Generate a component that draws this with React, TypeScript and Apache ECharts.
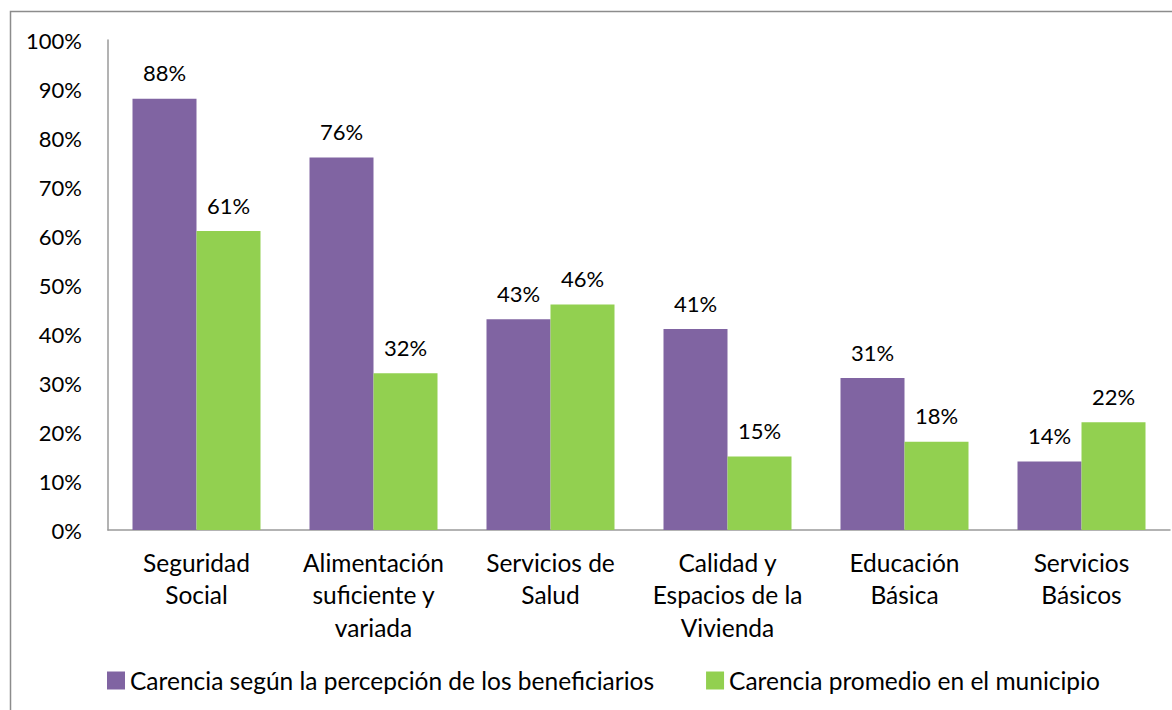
import React, { useEffect, useRef } from "react";
import * as echarts from "echarts";

const categories = [
  "Seguridad\nSocial",
  "Alimentación\nsuficiente y\nvariada",
  "Servicios de\nSalud",
  "Calidad y\nEspacios de la\nVivienda",
  "Educación\nBásica",
  "Servicios\nBásicos",
];
const beneficiarios = [88, 76, 43, 41, 31, 14];
const municipio = [61, 32, 46, 15, 18, 22];
const seriesNames = [
  "Carencia según la percepción de los beneficiarios",
  "Carencia promedio en el municipio",
];

const FONT = "Lato, sans-serif";
const FS_NUM = 22;
const FS_TXT = 24.5;

export default function App() {
  const ref = useRef<HTMLDivElement>(null);
  useEffect(() => {
    if (!ref.current) return;
    const chart = echarts.init(ref.current, null, { renderer: "svg" });
    const label = {
      show: true,
      position: "top",
      distance: 15,
      formatter: "{c}%",
      color: "#000",
      fontSize: FS_NUM,
      fontFamily: FONT,
    };
    chart.setOption({
      animation: false,
      backgroundColor: "#fff",
      graphic: [
        {
          type: "rect",
          shape: { x: 10.5, y: 11.5, width: 1200, height: 760 },
          style: { fill: "none", stroke: "#8c8c8c", lineWidth: 1.5 },
          silent: true,
        },
      ],
      grid: { left: 108, right: 2, top: 40, bottom: 180 },
      legend: {
        bottom: 12,
        left: 102,
        itemWidth: 18,
        itemHeight: 18,
        itemGap: 52,
        icon: "rect",
        textStyle: { fontSize: FS_TXT, fontFamily: FONT, color: "#000" },
        data: seriesNames,
      },
      xAxis: {
        type: "category",
        data: categories,
        axisLine: { lineStyle: { color: "#9a9a9a", width: 1.5 } },
        axisTick: { show: false },
        axisLabel: {
          interval: 0,
          margin: 16,
          fontSize: FS_TXT,
          lineHeight: 32.5,
          fontFamily: FONT,
          color: "#000",
        },
      },
      yAxis: {
        type: "value",
        min: 0,
        max: 100,
        interval: 10,
        axisLine: { show: true, lineStyle: { color: "#9a9a9a", width: 1.5 } },
        axisTick: { show: false },
        splitLine: { show: false },
        axisLabel: {
          formatter: "{value}%",
          fontSize: FS_NUM,
          margin: 26,
          fontFamily: FONT,
          color: "#000",
        },
      },
      series: [
        {
          name: seriesNames[0],
          type: "bar",
          data: beneficiarios,
          barWidth: 64,
          barGap: "0%",
          itemStyle: { color: "#8064A2" },
          label,
        },
        {
          name: seriesNames[1],
          type: "bar",
          data: municipio,
          barWidth: 64,
          barGap: "0%",
          itemStyle: { color: "#92D050" },
          label,
        },
      ],
    });
    return () => chart.dispose();
  }, []);
  return (
    <div
      ref={ref}
      style={{ position: "fixed", left: 0, top: 0, width: 1172, height: 710 }}
    />
  );
}
